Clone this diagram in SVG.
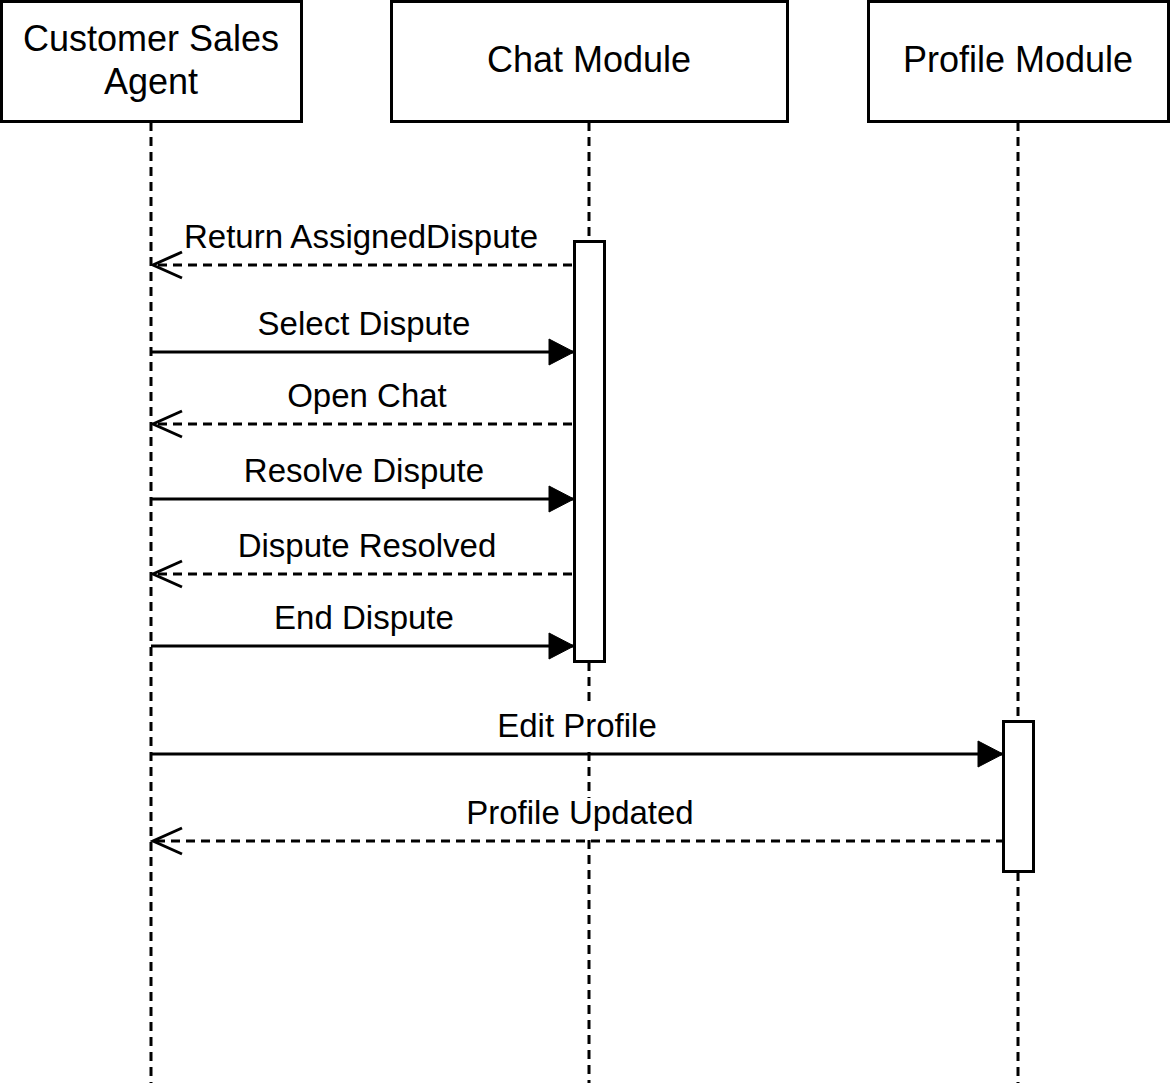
<svg xmlns="http://www.w3.org/2000/svg" width="1170" height="1083" viewBox="0 0 1170 1083">
<style>
.box{fill:#fff;stroke:#000;stroke-width:3}
.life{stroke:#000;stroke-width:3;stroke-dasharray:9,6;fill:none}
.msg{stroke:#000;stroke-width:3;fill:none}
.ret{stroke:#000;stroke-width:3;fill:none;stroke-dasharray:9,6}
.hd{font-family:"Liberation Sans",Arial,sans-serif;font-size:36px;fill:#000;text-anchor:middle}
.lb{font-family:"Liberation Sans",Arial,sans-serif;font-size:33px;fill:#000;text-anchor:middle}
</style>
<defs>
<marker id="filled" markerUnits="userSpaceOnUse" markerWidth="28" markerHeight="30" refX="26" refY="14" orient="auto">
<path d="M1,1 L26,14 L1,27 Z" fill="#000" stroke="#000" stroke-width="1"/>
</marker>
<marker id="open" markerUnits="userSpaceOnUse" markerWidth="34" markerHeight="32" refX="31" refY="16" orient="auto">
<path d="M2,3 L31,16 L2,29" fill="none" stroke="#000" stroke-width="3"/>
</marker>
</defs>
<g id="lifelines">
<line class="life" x1="151" y1="122" x2="151" y2="1083"/>
<line class="life" x1="589" y1="122" x2="589" y2="707"/>
<line class="life" x1="589" y1="752" x2="589" y2="798"/>
<line class="life" x1="589" y1="840" x2="589" y2="1083"/>
<line class="life" x1="1018" y1="122" x2="1018" y2="1083"/>
</g>
<g id="agent">
<rect class="box" x="1.5" y="1.5" width="300" height="120"/>
<text class="hd" x="151" y="51">Customer Sales</text>
<text class="hd" x="151" y="94">Agent</text>
</g>
<g id="chat">
<rect class="box" x="391.5" y="1.5" width="396" height="120"/>
<text class="hd" x="589" y="72">Chat Module</text>
</g>
<g id="profile">
<rect class="box" x="868.5" y="1.5" width="300" height="120"/>
<text class="hd" x="1018" y="72">Profile Module</text>
</g>
<g id="chat-activation">
<rect class="box" x="574.5" y="241.5" width="30" height="420"/>
</g>
<g id="profile-activation">
<rect class="box" x="1003.5" y="721.5" width="30" height="150"/>
</g>
<g id="connectors">
<line class="ret" x1="572" y1="265" x2="153" y2="265" marker-end="url(#open)"/>
<line class="msg" x1="151" y1="352" x2="574" y2="352" marker-end="url(#filled)"/>
<line class="ret" x1="572" y1="424" x2="153" y2="424" marker-end="url(#open)"/>
<line class="msg" x1="151" y1="499" x2="574" y2="499" marker-end="url(#filled)"/>
<line class="ret" x1="572" y1="574" x2="153" y2="574" marker-end="url(#open)"/>
<line class="msg" x1="151" y1="646" x2="574" y2="646" marker-end="url(#filled)"/>
<line class="msg" x1="151" y1="754" x2="1003" y2="754" marker-end="url(#filled)"/>
<line class="ret" x1="1005" y1="841" x2="153" y2="841" marker-end="url(#open)"/>
</g>
<g id="labels">
<text class="lb" x="361" y="248">Return AssignedDispute</text>
<text class="lb" x="364" y="335">Select Dispute</text>
<text class="lb" x="367" y="407">Open Chat</text>
<text class="lb" x="364" y="482">Resolve Dispute</text>
<text class="lb" x="367" y="557">Dispute Resolved</text>
<text class="lb" x="364" y="629">End Dispute</text>
<text class="lb" x="577" y="737">Edit Profile</text>
<text class="lb" x="580" y="824">Profile Updated</text>
</g>
</svg>
